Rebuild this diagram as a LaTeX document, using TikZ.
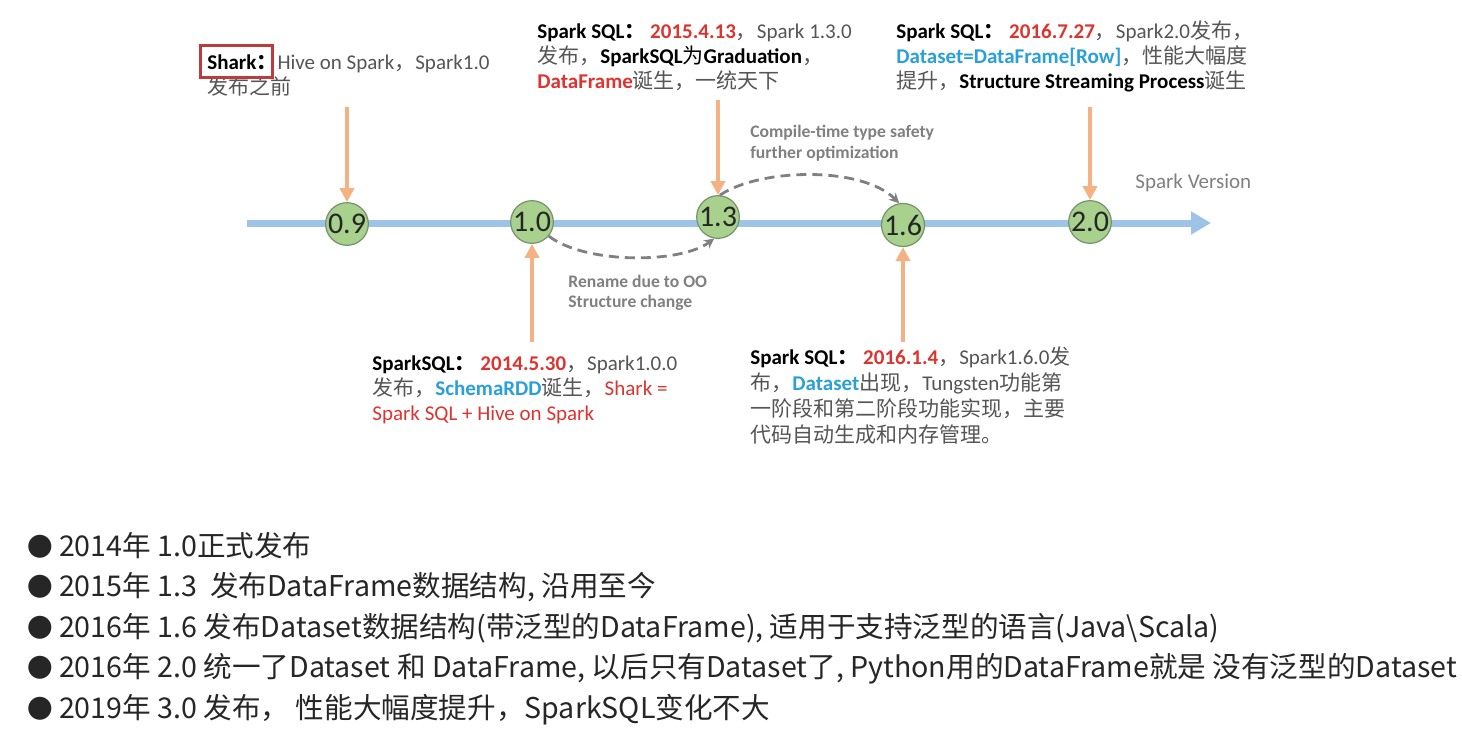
\documentclass[tikz,border=0pt]{standalone}
\usepackage{fontspec}
\setmainfont{Carlito}
\newfontfamily\cjkfam{Noto Sans CJK SC}
\usetikzlibrary{arrows.meta}

% Chinese characters and full-width punctuation switch to the CJK family.
\XeTeXinterchartokenstate=1
\newXeTeXintercharclass\cjkclass
\newcount\cjkcode
\newcommand\setcjkrange[2]{%
  \cjkcode=#1\relax
  \loop\XeTeXcharclass\cjkcode=\cjkclass
  \ifnum\cjkcode<#2\relax\advance\cjkcode by 1\repeat}
\setcjkrange{"3000}{"303F}
\setcjkrange{"4E00}{"9FFF}
\setcjkrange{"FF00}{"FFEF}
\setcjkrange{"25CF}{"25CF}
\newcommand\tolatin{\rmfamily}
\XeTeXinterchartoks 0 \cjkclass = {\cjkfam}
\XeTeXinterchartoks 4095 \cjkclass = {\cjkfam}
\XeTeXinterchartoks \cjkclass 0 = {\tolatin}
\XeTeXinterchartoks 4095 0 = {\tolatin}

\definecolor{axisblue}{RGB}{157,195,230}
\definecolor{nodegreen}{RGB}{169,209,142}
\definecolor{nodeedge}{RGB}{118,146,108}
\definecolor{arroworange}{RGB}{244,177,131}
\definecolor{datered}{RGB}{222,52,48}
\definecolor{typeblue}{RGB}{42,160,218}
\definecolor{bodygray}{RGB}{85,85,85}
\definecolor{notegray}{RGB}{128,128,128}
\definecolor{boxred}{RGB}{186,60,60}

\newcommand{\hlkey}[1]{\textbf{\textcolor{black}{#1}}}
\newcommand{\hldate}[1]{\textbf{\textcolor{datered}{#1}}}
\newcommand{\hltype}[1]{\textbf{\textcolor{typeblue}{#1}}}
\newcommand{\hlred}[1]{\textcolor{datered}{#1}}
\newcommand{\bul}{{\fontsize{12.8}{12.8}\selectfont ●}\hspace{3pt}}

\begin{document}
\begin{tikzpicture}[
  x=0.5pt,
  y=-0.5pt,
  version/.style={
    circle,
    draw=nodeedge,
    fill=nodegreen,
    line width=0.6pt,
    minimum size=20.5pt,
    inner sep=0pt,
    text=black!85,
    font=\fontsize{15}{15}\selectfont
  },
  axis/.style={draw=axisblue, line width=3.5pt, -{Triangle[width=11pt,length=10pt]}},
  pointer/.style={draw=arroworange, line width=2.2pt, -{Triangle[width=7pt,length=7pt]}},
  dashflow/.style={draw=notegray, line width=1.4pt, dash pattern=on 5pt off 3pt,
    -{Stealth[length=5pt,width=5pt]}},
  event/.style={anchor=base west, inner sep=0pt, align=left, text=bodygray,
    font=\fontsize{10.5}{12.5}\selectfont},
  muted/.style={anchor=base west, inner sep=0pt, align=left, text=notegray,
    font=\fontsize{8.8}{10}\selectfont\bfseries},
  summary/.style={anchor=base west, inner sep=0pt, align=left, text=black!85,
    font=\let\tolatin\cjkfam\cjkfam\fontsize{14.3}{20.25}\selectfont}
]

\fill[white] (0,0) rectangle (1462,733);
\useasboundingbox (0,0) rectangle (1462,733);

% Version axis.
\coordinate (axisL) at (247,223);
\coordinate (axisR) at (1211,223);
\draw[axis] (axisL) -- (axisR);

\node[version] (v09) at (347,224) {0.9};
\node[version] (v10) at (532,222) {1.0};
\node[version] (v13) at (718,217) {1.3};
\node[version] (v16) at (903,225) {1.6};
\node[version] (v20) at (1090,222) {2.0};

\draw[dashflow] (v10.-40) .. controls (585,264) and (680,264) .. (v13.-100);
\draw[dashflow] (v13.85) .. controls (760,168) and (862,166) .. (v16.100);

\node[muted] (typesafe) at (750,158) {Compile-time type safety\\further optimization};
\node[muted] (rename) at (568,307) {Rename due to OO\\Structure change};
\node[event, text=notegray, font=\fontsize{10.5}{10.5}\selectfont] (axislabel) at (1135,188) {Spark Version};

% Release notes above and below the axis (anchored on their last line).
\node[event] (shark) at (207,95) {\hlkey{Shark：}Hive on Spark，Spark1.0\\发布之前};
\draw[draw=boxred, line width=1.5pt] (200,46) rectangle (272,78);

\node[event] (sql13) at (537,89)
  {\hlkey{Spark SQL：} \hldate{2015.4.13}，Spark 1.3.0\\发布，\hlkey{SparkSQL}\textcolor{black}{为}\hlkey{Graduation}，\\\hldate{DataFrame}诞生，一统天下};
\node[event] (sql20) at (896,89)
  {\hlkey{Spark SQL：} \hldate{2016.7.27}，Spark2.0发布，\\\hltype{Dataset=DataFrame[Row]}，性能大幅度\\提升，\hlkey{Structure Streaming Process}诞生};
\node[event] (sql10) at (372,420)
  {\hlkey{SparkSQL：} \hldate{2014.5.30}，Spark1.0.0\\发布，\hltype{SchemaRDD}诞生，\hlred{Shark =}\\\hlred{Spark SQL + Hive on Spark}};
\node[event, font=\fontsize{10.5}{13}\selectfont] (sql16) at (750,442)
  {\hlkey{Spark SQL：} \hldate{2016.1.4}，Spark1.6.0发\\布，\hltype{Dataset}出现，Tungsten功能第\\一阶段和第二阶段功能实现，主要\\代码自动生成和内存管理。};

\coordinate (p09) at (347,107);
\coordinate (p13) at (718,100);
\coordinate (p20) at (1090,107);
\coordinate (p10) at (532,342);
\coordinate (p16) at (903,342);
\draw[pointer] (p09) -- (v09);
\draw[pointer] (p13) -- (v13);
\draw[pointer] (p20) -- (v20);
\draw[pointer] (p10) -- (v10);
\draw[pointer] (p16) -- (v16);

\node[summary] (history) at (27,718)
  {\bul 2014年 1.0正式发布\\
   \bul 2015年 1.3 \ 发布DataFrame数据结构, 沿用至今\\
   \bul 2016年 1.6 发布Dataset数据结构(带泛型的DataFrame), 适用于支持泛型的语言(Java\textbackslash Scala)\\
   \bul 2016年 2.0 统一了Dataset 和 DataFrame, 以后只有Dataset了, Python用的DataFrame就是 没有泛型的Dataset\\
   \bul 2019年 3.0 发布， 性能大幅度提升，SparkSQL变化不大};

\end{tikzpicture}
\end{document}
